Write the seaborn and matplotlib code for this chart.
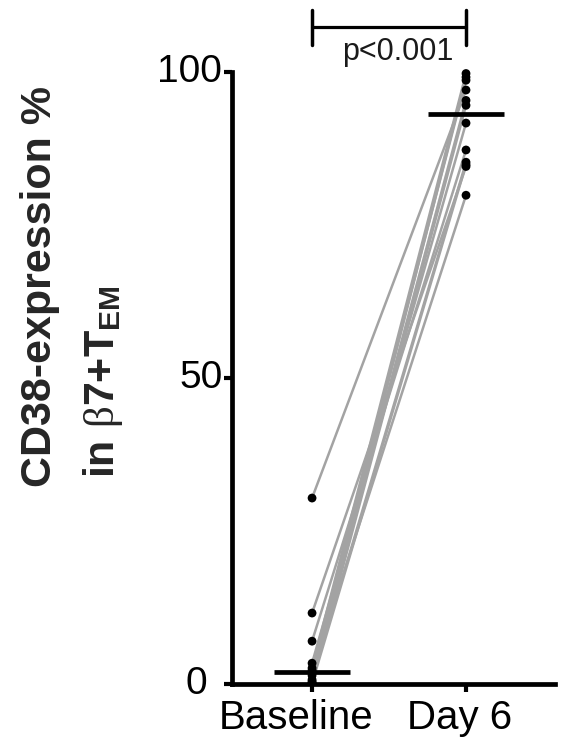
import numpy as np
import pandas as pd
import matplotlib
matplotlib.use("Agg")
import matplotlib.pyplot as plt
import matplotlib.transforms as mtransforms
import seaborn as sns

groups = ["Baseline", "Day 6"]
baseline = [30.4, 11.6, 7.0, 3.4, 2.6, 2.2, 1.8, 1.4, 0.7, 0.4, 0.2, 0.1]
day6 = [97.1, 84.6, 87.3, 91.7, 99.8, 79.9, 98.7, 95.4, 85.3, 99.2, 94.6, 84.9]
yticks = [0, 50, 100]
p_text = "p<0.001"

sns.set_style("ticks", {"axes.edgecolor": "black"})
plt.rcParams["font.family"] = ["Liberation Sans", "DejaVu Sans"]
plt.rcParams["mathtext.fontset"] = "custom"
plt.rcParams["mathtext.rm"] = "Liberation Serif"
plt.rcParams["mathtext.bf"] = "Liberation Sans:bold"

n = len(baseline)
df = pd.DataFrame({
    "subject": list(range(n)) * 2,
    "x": [0] * n + [1] * n,
    "value": baseline + day6,
})

fig = plt.figure(figsize=(5.61, 7.45), dpi=100)
ax = fig.add_axes([232 / 561, 61 / 745, 323 / 561, 679 / 745])

sns.lineplot(data=df, x="x", y="value", units="subject", estimator=None,
             color="#a3a3a3", lw=1.8, ax=ax, legend=False)
sns.scatterplot(data=df, x="x", y="value", color="black", s=40,
                edgecolor="none", ax=ax, zorder=3, legend=False)

# median bars
for i, vals in enumerate([baseline, day6]):
    m = np.median(vals)
    ax.plot([i - 0.245, i + 0.245], [m, m], color="black", lw=3.4,
            solid_capstyle="butt", zorder=4)

ax.set_xlim(-0.52, 1.578)
ax.set_ylim(0, 111)
ax.set_xticks([0, 1])
ax.set_xticklabels(groups)
ax.set_yticks(yticks)
ax.set_xlabel("")
ax.set_ylabel("")
ax.tick_params(axis="both", labelsize=28, width=3, length=6, pad=1,
               colors="black")
ax.tick_params(axis="x", labelsize=29, pad=5)
for s in ["left", "bottom"]:
    ax.spines[s].set_linewidth(3.4)
ax.spines["left"].set_bounds(0, 100)
sns.despine(ax=ax)

# label nudges, as in the original
for lab, dx in zip(ax.get_xticklabels(), [-16, -6]):
    lab.set_transform(lab.get_transform() +
                      mtransforms.ScaledTranslation(dx / 100, 0, fig.dpi_scale_trans))
for lab, dx in zip(ax.get_yticklabels(), [-15, 0, 0]):
    lab.set_transform(lab.get_transform() +
                      mtransforms.ScaledTranslation(dx / 100, 4 / 100, fig.dpi_scale_trans))

# significance bracket
ax.plot([0, 1], [107.4, 107.4], color="black", lw=2.3, clip_on=False)
for i in [0, 1]:
    ax.plot([i, i], [104.4, 110.2], color="black", lw=2.5, clip_on=False)
ax.text(0.56, 102.0, p_text, ha="center", va="baseline", fontsize=22,
        color="#1a1a1a")

# y label, two lines
fig.text(40 / 561, 1 - 487 / 745, "CD38-expression %", rotation=90,
         ha="center", va="bottom", fontsize=31, fontweight="bold")
fig.text(103 / 561, 1 - 478 / 745,
         "in $\\mathrm{\u03b2}$7+T$_{\\mathbf{EM}}$", rotation=90,
         ha="center", va="bottom", fontsize=31, fontweight="bold")

fig.savefig("out.png", dpi=100)
